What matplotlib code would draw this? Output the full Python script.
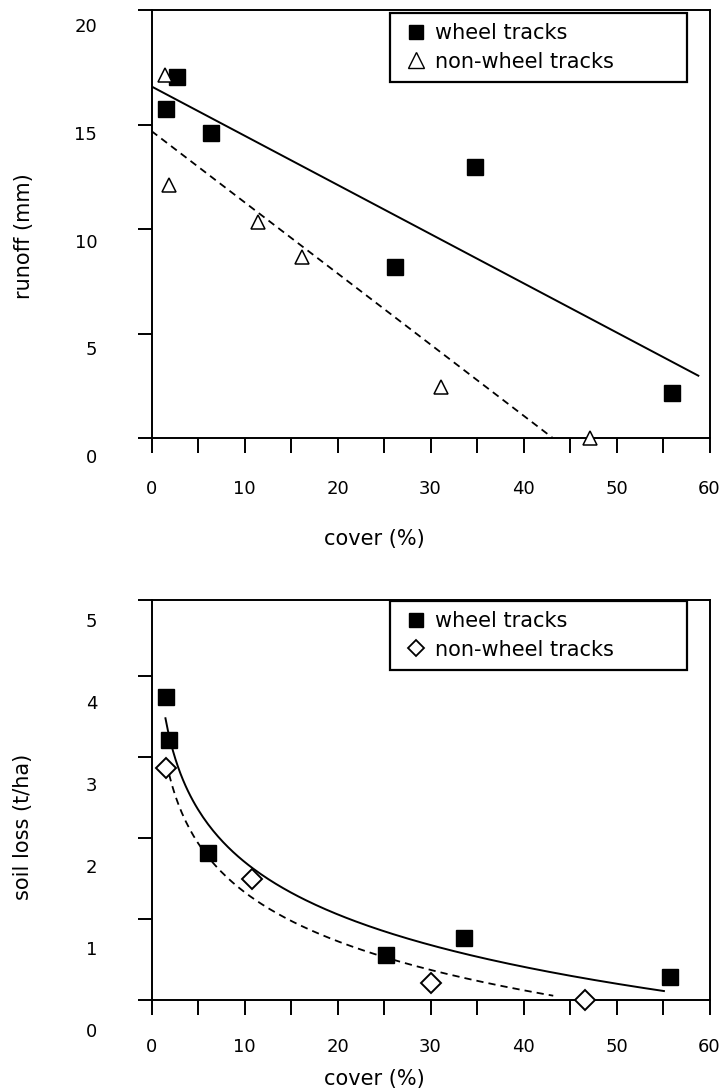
import numpy as np
import matplotlib
matplotlib.use('Agg')
import matplotlib.pyplot as plt
from matplotlib.lines import Line2D

plt.rcParams['font.family'] = ['DejaVu Sans']

# --- runoff (mm) against cover (%) ---
runoff_wheel_cover = [1.6, 2.7, 6.4, 26.2, 34.8, 56.0]
runoff_wheel = [15.74, 17.27, 14.59, 8.2, 13.0, 2.14]
runoff_non_cover = [1.5, 1.9, 11.4, 16.2, 31.1, 47.1]
runoff_non = [17.4, 12.1, 10.36, 8.68, 2.46, 0.0]
runoff_wheel_fit_span = [0.0, 58.8]
runoff_non_fit_span = [0.0, 43.1]

# --- soil loss (t/ha) against cover (%) ---
soil_wheel_cover = [1.56, 1.9, 6.1, 25.2, 33.6, 55.7]
soil_wheel = [3.745, 3.21, 1.81, 0.56, 0.77, 0.29]
soil_non_cover = [1.58, 10.8, 30.0, 46.6]
soil_non = [2.87, 1.49, 0.21, 0.0]
soil_wheel_fit_span = [1.5, 55.1]
soil_non_fit_span = [1.6, 43.2]

legend_labels = ['wheel tracks', 'non-wheel tracks']
runoff_ticklabels = [0, 5, 10, 15, 20]
soil_ticklabels = [0, 1, 2, 3, 4, 5]

W, H = 724, 1090
fig = plt.figure(figsize=(W / 100, H / 100), dpi=100)


def box(l, t, r, b):
    # pixel box -> figure fraction
    return [l / W, 1 - b / H, (r - l) / W, (b - t) / H]


def label_axes(rect, ticks):
    # the scanned figure has its tick labels slightly off the tick marks,
    # so the numbers sit on a separate, frameless axes
    axl = fig.add_axes(rect)
    axl.set_ylim(ticks[0], ticks[-1])
    axl.set_yticks(ticks)
    axl.tick_params(axis='y', length=0, pad=39, labelsize=13)
    axl.xaxis.set_visible(False)
    axl.set_frame_on(False)
    axl.patch.set_visible(False)
    return axl


def frame(ax, ytop, ystep):
    ax.set_xlim(0, 60)
    ax.set_ylim(0, ytop)
    ax.set_xticks(range(0, 61, 10))
    ax.set_xticks(range(5, 60, 10), minor=True)
    ax.set_yticks(list(np.arange(0, ytop - 0.5 * ystep, ystep)) + [ytop])
    ax.tick_params(axis='x', which='both', direction='out', length=11, width=1.4,
                   labelsize=13)
    ax.tick_params(axis='y', direction='out', length=10, width=1.4, labelleft=False)
    for s in ax.spines.values():
        s.set_linewidth(1.4)


def add_legend(ax, second_marker, ytop):
    h1 = Line2D([], [], ls='none', marker='s', ms=9.5, mfc='k', mec='k')
    if second_marker == '^':
        h2 = Line2D([], [], ls='none', marker='^', ms=11, mfc='w', mec='k', mew=1.0)
    else:
        h2 = Line2D([], [], ls='none', marker='D', ms=8.5, mfc='w', mec='k', mew=1.3)
    leg = ax.legend([h1, h2], legend_labels, loc='upper left',
                    bbox_to_anchor=(0.4274, ytop - 0.3, 0.5323, 0.3), mode='expand',
                    borderaxespad=0, fontsize=15, frameon=True, fancybox=False,
                    framealpha=1, edgecolor='k', handlelength=1.55,
                    handletextpad=0.12, labelspacing=0.42, borderpad=0.48)
    leg.get_frame().set_linewidth(1.6)


# ---------- top: runoff ----------
label_axes(box(151.5, 25, 709.5, 456), runoff_ticklabels)
ax1 = fig.add_axes(box(151.5, 10, 709.5, 438))
frame(ax1, 20.5, 5)
ax1.tick_params(axis='x', which='both', pad=19)

c = np.polyfit(runoff_wheel_cover, runoff_wheel, 1)
xs = np.array(runoff_wheel_fit_span)
ax1.plot(xs, np.polyval(c, xs), color='k', lw=1.4)
c = np.polyfit(runoff_non_cover, runoff_non, 1)
xs = np.array(runoff_non_fit_span)
ax1.plot(xs, np.polyval(c, xs), color='k', lw=1.3, ls=(0, (4, 2.8)))

ax1.plot(runoff_wheel_cover, runoff_wheel, ls='none', marker='s', ms=12,
         mfc='k', mec='k', zorder=3, clip_on=False)
ax1.plot(runoff_non_cover, runoff_non, ls='none', marker='^', ms=10.5,
         mfc='w', mec='k', mew=1.1, zorder=3, clip_on=False)

ax1.set_xlabel('cover (%)', fontsize=15)
ax1.xaxis.set_label_coords(0.40, -0.2126)
ax1.set_ylabel('runoff (mm)', fontsize=15)
ax1.yaxis.set_label_coords(-0.2106, 0.472)
add_legend(ax1, '^', 0.993)

# ---------- bottom: soil loss ----------
label_axes(box(151.5, 620, 709.5, 1030), soil_ticklabels)
ax2 = fig.add_axes(box(151.5, 600, 709.5, 1000))
frame(ax2, 4.94, 1)
ax2.tick_params(axis='x', which='both', pad=16.5)

c = np.polyfit(np.log(soil_wheel_cover), soil_wheel, 1)
xs = np.linspace(soil_wheel_fit_span[0], soil_wheel_fit_span[1], 200)
ax2.plot(xs, np.polyval(c, np.log(xs)), color='k', lw=1.4)
c = np.polyfit(np.log(soil_non_cover), soil_non, 1)
xs = np.linspace(soil_non_fit_span[0], soil_non_fit_span[1], 200)
ax2.plot(xs, np.polyval(c, np.log(xs)), color='k', lw=1.3, ls=(0, (4, 2.8)))

ax2.plot(soil_wheel_cover, soil_wheel, ls='none', marker='s', ms=12,
         mfc='k', mec='k', zorder=3, clip_on=False)
ax2.plot(soil_non_cover, soil_non, ls='none', marker='D', ms=9.7,
         mfc='w', mec='k', mew=1.4, zorder=3, clip_on=False)

ax2.set_xlabel('cover (%)', fontsize=15)
ax2.xaxis.set_label_coords(0.40, -0.1725)
ax2.set_ylabel('soil loss (t/ha)', fontsize=15)
ax2.yaxis.set_label_coords(-0.2124, 0.4325)
add_legend(ax2, 'D', 0.998)

fig.savefig('out.png', dpi=100)
